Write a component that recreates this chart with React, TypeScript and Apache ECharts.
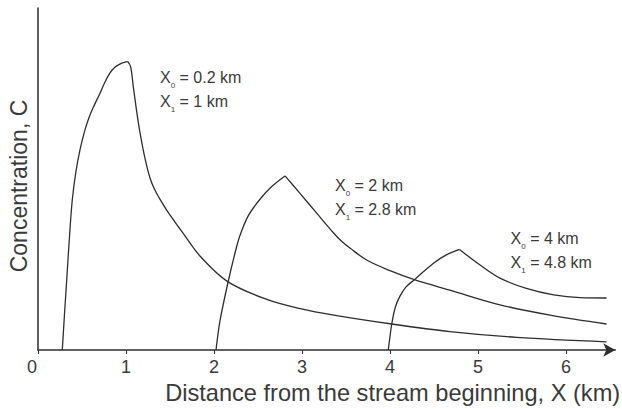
import React, { useEffect, useRef } from 'react';
import * as echarts from 'echarts';

// X axis tick values (km)
const xTickValues = [0, 1, 2, 3, 4, 5, 6];

// Curve 1: X0 = 0.2 km, X1 = 1 km
const curve1X = [0.276, 0.3, 0.33, 0.36, 0.39, 0.43, 0.477, 0.53, 0.583, 0.64, 0.705, 0.76, 0.818, 0.87, 0.93, 0.98, 1.02, 1.053, 1.083, 1.12, 1.16, 1.216, 1.27, 1.32, 1.37, 1.46, 1.65, 1.84, 2.155, 2.6, 2.98, 3.36, 4.02, 4.68, 5.44, 6.46];
const curve1Y = [0, 0.1, 0.22, 0.34, 0.44, 0.52, 0.585, 0.64, 0.682, 0.716, 0.751, 0.783, 0.81, 0.826, 0.836, 0.841, 0.843, 0.828, 0.77, 0.7, 0.634, 0.56, 0.505, 0.472, 0.448, 0.41, 0.341, 0.275, 0.2, 0.148, 0.121, 0.102, 0.076, 0.054, 0.037, 0.024];

// Curve 2: X0 = 2 km, X1 = 2.8 km
const curve2X = [2.023, 2.068, 2.155, 2.24, 2.295, 2.39, 2.52, 2.656, 2.807, 2.977, 3.167, 3.356, 3.45, 3.545, 3.735, 4.0, 4.284, 4.68, 5.25, 5.82, 6.46];
const curve2Y = [0, 0.085, 0.193, 0.285, 0.335, 0.393, 0.44, 0.478, 0.509, 0.458, 0.4, 0.343, 0.318, 0.298, 0.263, 0.232, 0.205, 0.175, 0.132, 0.102, 0.076];

// Curve 3: X0 = 4 km, X1 = 4.8 km
const curve3X = [3.98, 4.0, 4.02, 4.06, 4.11, 4.18, 4.284, 4.49, 4.64, 4.79, 5.02, 5.25, 5.55, 5.86, 6.16, 6.46];
const curve3Y = [0, 0.04, 0.076, 0.125, 0.156, 0.184, 0.207, 0.253, 0.278, 0.294, 0.249, 0.21, 0.18, 0.161, 0.153, 0.152];

// Annotations
const labelX0 = ['0.2 km', '2 km', '4 km'];
const labelX1 = ['1 km', '2.8 km', '4.8 km'];
const labelAnchorX = [1.386, 3.375, 5.37];
const labelAnchorY = [0.832, 0.515, 0.361];

const FONT = '"Liberation Sans", Arial, Helvetica, sans-serif';
const INK = '#2e2e2e';
const TEXT = '#3a3a3a';

const zip = (xs: number[], ys: number[]) => xs.map((x, i) => [x, ys[i]]);

const curves = [zip(curve1X, curve1Y), zip(curve2X, curve2Y), zip(curve3X, curve3Y)];

const annotationRich = {
  x: { fontSize: 16, lineHeight: 24, color: TEXT, fontFamily: FONT },
  s: { fontSize: 8, lineHeight: 9, color: TEXT, fontFamily: FONT, verticalAlign: 'bottom' as const },
};

const lineStyle = { color: INK, width: 1.3 };

export default function App() {
  const ref = useRef<HTMLDivElement>(null);
  useEffect(() => {
    if (!ref.current) return;
    const chart = echarts.init(ref.current, null, { renderer: 'svg' });
    const series: any[] = [];
    curves.forEach((data, i) => {
      // split at the peak so the cusp stays sharp while both branches are smooth
      let peak = 0;
      data.forEach((p, k) => { if (p[1] > data[peak][1]) peak = k; });
      series.push({
        type: 'line',
        data: data.slice(0, peak + 1),
        showSymbol: false,
        symbol: 'none',
        smooth: 0.35,
        lineStyle,
        silent: true,
        markPoint: {
          silent: true,
          animation: false,
          data: [
            {
              coord: [labelAnchorX[i], labelAnchorY[i]],
              symbol: 'circle',
              symbolSize: 0,
              itemStyle: { color: 'transparent' },
              label: {
                show: true,
                position: [0, 0],
                align: 'left',
                verticalAlign: 'top',
                formatter: `{x|X}{s|0}{x| = ${labelX0[i]}}\n{x|X}{s|1}{x| = ${labelX1[i]}}`,
                rich: annotationRich,
              },
            },
          ],
        },
      });
      series.push({
        type: 'line',
        data: data.slice(peak),
        showSymbol: false,
        symbol: 'none',
        smooth: 0.35,
        lineStyle,
        silent: true,
      });
    });
    const option: any = {
      animation: false,
      grid: { left: 38, top: 8, right: 6.7, bottom: 59, containLabel: false, outerBoundsMode: 'none' },
      xAxis: {
        type: 'value',
        min: 0,
        max: 6.56,
        interval: 1,
        name: 'Distance from the stream beginning, X (km)',
        nameLocation: 'middle',
        nameGap: 25,
        nameTextStyle: { fontSize: 23.6, color: TEXT, fontFamily: FONT, padding: [0, 0, 0, 132] },
        axisLine: { show: true, lineStyle: { color: INK, width: 1.5 }, symbol: ['none', 'arrow'], symbolSize: [10, 12] },
        axisTick: { show: true, length: 4, lineStyle: { color: INK, width: 1 } },
        axisLabel: {
          show: true,
          margin: 8,
          showMaxLabel: false,
          fontSize: 18,
          color: TEXT,
          fontFamily: FONT,
          formatter: (v: number) => {
            if (!xTickValues.includes(v)) return '';
            return v === 0 ? '{z|0}' : `{n|${v}}`;
          },
          rich: {
            z: { fontSize: 18, color: TEXT, fontFamily: FONT, padding: [0, 12, 0, 0] },
            n: { fontSize: 18, color: TEXT, fontFamily: FONT },
          },
        },
        splitLine: { show: false },
      },
      yAxis: {
        type: 'value',
        min: 0,
        max: 1,
        name: 'Concentration, C',
        nameLocation: 'middle',
        nameGap: 8,
        nameTextStyle: { fontSize: 23, color: TEXT, fontFamily: FONT, padding: [0, 14, 0, 0] },
        axisLine: { show: true, lineStyle: { color: INK, width: 1.5 } },
        axisTick: { show: false },
        axisLabel: { show: false },
        splitLine: { show: false },
      },
      series,
    };
    chart.setOption(option);
    return () => chart.dispose();
  }, []);
  return <div ref={ref} style={{ position: 'absolute', left: 0, top: 0, width: 622, height: 409 }} />;
}
